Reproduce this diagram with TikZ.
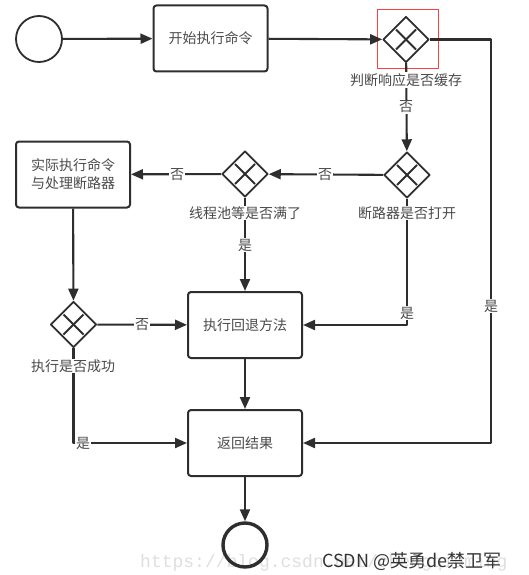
\documentclass[tikz,border=0pt]{standalone}
\usepackage{fontspec}
\newfontfamily\cjk{Noto Sans CJK SC}
\newfontfamily\urlmono{Liberation Mono}
\usetikzlibrary{shapes.geometric,arrows.meta,calc}
\definecolor{ln}{HTML}{2E2E2E}
\definecolor{tx}{HTML}{4A4A4A}
\tikzset{
  every picture/.style={line join=round},
  flow/.style={draw=ln,line width=2.1pt,-{Triangle[length=12pt,width=10pt]}},
  boxnode/.style={draw=ln,line width=2pt,rounded corners=3pt,minimum width=114pt,minimum height=66pt,inner sep=0pt,align=center,text=tx,font=\cjk\fontsize{14}{18}\selectfont},
  gate/.style={draw=ln,line width=1.8pt,diamond,minimum width=46pt,minimum height=46pt,inner sep=0pt,
    path picture={\draw[line width=1.8pt,ln] ([shift={(-10pt,-10pt)}]path picture bounding box.center) -- ([shift={(10pt,10pt)}]path picture bounding box.center);
                  \draw[line width=1.8pt,ln] ([shift={(-10pt,10pt)}]path picture bounding box.center) -- ([shift={(10pt,-10pt)}]path picture bounding box.center);}},
  startev/.style={circle,draw=ln,line width=1.8pt,minimum size=46pt,inner sep=0pt},
  endev/.style={circle,draw=ln,line width=3.4pt,minimum size=44pt,inner sep=0pt},
  lab/.style={fill=white,inner sep=1pt,text=tx,font=\cjk\fontsize{14}{16}\selectfont},
}
\begin{document}
\begin{tikzpicture}[x=1pt,y=-1pt]
\useasboundingbox (0,0) rectangle (529,575);
% watermark URL (faint)
\node[anchor=west,text=black!13,font=\urlmono\fontsize{18}{20}\selectfont,inner sep=0pt] (url) at (140,563) {https://blog.csdn.net/chengqiuming};

\node[startev] (s) at (39,39) {};
\node[boxnode] (b1) at (210.5,38.5) {开始执行命令};
\node[gate] (g1) at (406,39.5) {};
\node[draw=red!75,line width=0.9pt,minimum width=61pt,minimum height=59pt,inner sep=0pt] (hl) at (407.5,38.5) {};
\node[gate] (g2) at (407,175) {};
\node[gate] (g3) at (245,174) {};
\node[boxnode] (b2) at (73,174.5) {实际执行命令\\与处理断路器};
\node[gate] (g4) at (73.5,324.5) {};
\node[boxnode] (b3) at (245,325) {执行回退方法};
\node[boxnode] (b4) at (245,443) {返回结果};
\node[endev] (e) at (245,545) {};

\coordinate (c1) at (491,39.5);
\coordinate (c2) at (491,443);
\coordinate (c3) at (407,325);
\coordinate (c4) at (73.5,443);

\draw[flow] (s) -- (b1);
\draw[flow] (b1) -- (g1);
\draw[flow] (g1) -- (g2);
\draw[flow] (g2) -- (g3);
\draw[flow] (g3) -- (b2);
\draw[flow] (b2) -- (g4);
\draw[flow] (g4) -- (b3);
\draw[flow] (g3) -- (b3);
\draw[flow] (g2) -- (c3) -- (b3);
\draw[flow] (b3) -- (b4);
\draw[flow] (g4) -- (c4) -- (b4);
\draw[flow] (g1) -- (c1) -- (c2) -- (b4);
\draw[flow] (b4) -- (e);

% gateway captions
\node[lab] (t1) at (406,80) {判断响应是否缓存};
\node[lab] (t2) at (407,213) {断路器是否打开};
\node[lab] (t3) at (245,213) {线程池等是否满了};
\node[lab] (t4) at (73,366) {执行是否成功};

% edge labels
\node[lab] (n1) at (406,107) {否};
\node[lab] (n2) at (325,174.5) {否};
\node[lab] (n3) at (177,174.5) {否};
\node[lab] (n4) at (142,324.5) {否};
\node[lab] (y1) at (245,245) {是};
\node[lab] (y2) at (407,313) {是};
\node[lab] (y3) at (491,306) {是};
\node[lab] (y4) at (83,443) {是};

\node[anchor=west,text=black!80,font=\cjk\fontsize{18}{20}\selectfont,inner sep=0pt] (wm) at (322,561) {CSDN @英勇de禁卫军};
\end{tikzpicture}
\end{document}
